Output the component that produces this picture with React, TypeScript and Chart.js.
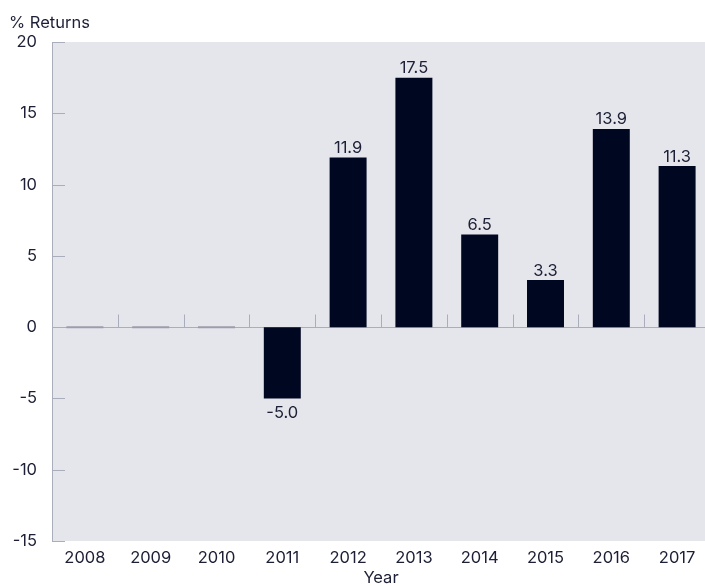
import React, { useEffect, useRef } from "react";
import { Chart, registerables } from "chart.js";

Chart.register(...registerables);

const years = ["2008", "2009", "2010", "2011", "2012", "2013", "2014", "2015", "2016", "2017"];
const returns = [0, 0, 0, -5.0, 11.9, 17.5, 6.5, 3.3, 13.9, 11.3];
const yMin = -15;
const yMax = 20;
const yStep = 5;
const yAxisTitle = "% Returns";
const xAxisTitle = "Year";

const FONT = "Inter, 'Noto Sans', sans-serif";
const FS = 16.5;
const TEXT = "#1c1f35";
const GRAY = "#aaadbb";
const BG = "#e5e6ec";
const BAR = "#000720";

const customPlugin = {
  id: "custom",
  beforeDraw(chart: any) {
    const { ctx, chartArea } = chart;
    ctx.save();
    ctx.fillStyle = BG;
    ctx.fillRect(chartArea.left, chartArea.top, chartArea.right - chartArea.left, chartArea.bottom - chartArea.top);
    ctx.restore();
  },
  beforeDatasetsDraw(chart: any) {
    const { ctx, chartArea, scales } = chart;
    const y = scales.y;
    const x = scales.x;
    ctx.save();
    ctx.strokeStyle = GRAY;
    ctx.lineWidth = 1;
    y.ticks.forEach((t: any) => {
      const py = Math.round(y.getPixelForValue(t.value)) + 0.5;
      ctx.beginPath();
      ctx.moveTo(chartArea.left, py);
      ctx.lineTo(chartArea.left + 13, py);
      ctx.stroke();
    });
    const y0 = Math.round(y.getPixelForValue(0)) + 0.5;
    ctx.beginPath();
    ctx.moveTo(chartArea.left, y0);
    ctx.lineTo(chartArea.right, y0);
    ctx.stroke();
    for (let i = 1; i < years.length; i++) {
      const bx = Math.round((x.getPixelForValue(i - 1) + x.getPixelForValue(i)) / 2) + 0.5;
      ctx.beginPath();
      ctx.moveTo(bx, y0 - 13);
      ctx.lineTo(bx, y0);
      ctx.stroke();
    }
    ctx.fillStyle = TEXT;
    ctx.font = `${FS}px ${FONT}`;
    ctx.textAlign = "left";
    ctx.textBaseline = "alphabetic";
    ctx.fillText(yAxisTitle, 9, 27.5);
    ctx.restore();
  },
  afterDatasetsDraw(chart: any) {
    const { ctx } = chart;
    const meta = chart.getDatasetMeta(0);
    ctx.save();
    ctx.fillStyle = TEXT;
    ctx.font = `${FS}px ${FONT}`;
    ctx.textAlign = "center";
    meta.data.forEach((bar: any, i: number) => {
      const v = returns[i];
      if (v === 0) return;
      const label = v.toFixed(1);
      if (v > 0) {
        ctx.textBaseline = "alphabetic";
        ctx.fillText(label, bar.x, bar.y - 4.5);
      } else {
        ctx.textBaseline = "top";
        ctx.fillText(label, bar.x, bar.y + 6);
      }
    });
    ctx.restore();
  },
};

export default function App() {
  const ref = useRef<HTMLCanvasElement | null>(null);
  useEffect(() => {
    document.body.style.margin = "0";
    const canvas = ref.current!;
    const chart = new Chart(canvas, {
      type: "bar",
      data: {
        labels: years,
        datasets: [
          {
            data: returns,
            backgroundColor: (c: any) => (returns[c.dataIndex] === 0 ? "#9a9dab" : BAR),
            barPercentage: 0.562,
            categoryPercentage: 1,
            minBarLength: 2,
          },
        ],
      },
      options: {
        responsive: false,
        animation: false,
        devicePixelRatio: 1,
        layout: { padding: { top: 42, left: 0, right: 0, bottom: 0 } },
        plugins: { legend: { display: false }, tooltip: { enabled: false }, title: { display: false } },
        scales: {
          x: {
            grid: { display: false, drawTicks: false },
            border: { display: false },
            ticks: { color: TEXT, font: { family: FONT, size: FS, lineHeight: 1.2 }, padding: 7, maxRotation: 0 },
            title: { display: true, text: xAxisTitle, color: TEXT, font: { family: FONT, size: FS, lineHeight: 1 }, padding: { top: 0, bottom: 0 } },
            afterFit: (s: any) => {
              s.height = 45;
            },
          },
          y: {
            min: yMin,
            max: yMax,
            grid: { display: false, drawTicks: false },
            border: { display: true, color: GRAY, width: 1 },
            ticks: { stepSize: yStep, color: TEXT, font: { family: FONT, size: FS }, padding: 15 },
            afterFit: (s: any) => {
              s.width = 52;
            },
          },
        },
      },
      plugins: [customPlugin],
    });
    return () => chart.destroy();
  }, []);
  return (
    <div style={{ width: 705, height: 586, overflow: "hidden", position: "relative" }}>
      <canvas ref={ref} width={710} height={586} style={{ width: 710, height: 586, display: "block" }} />
    </div>
  );
}
